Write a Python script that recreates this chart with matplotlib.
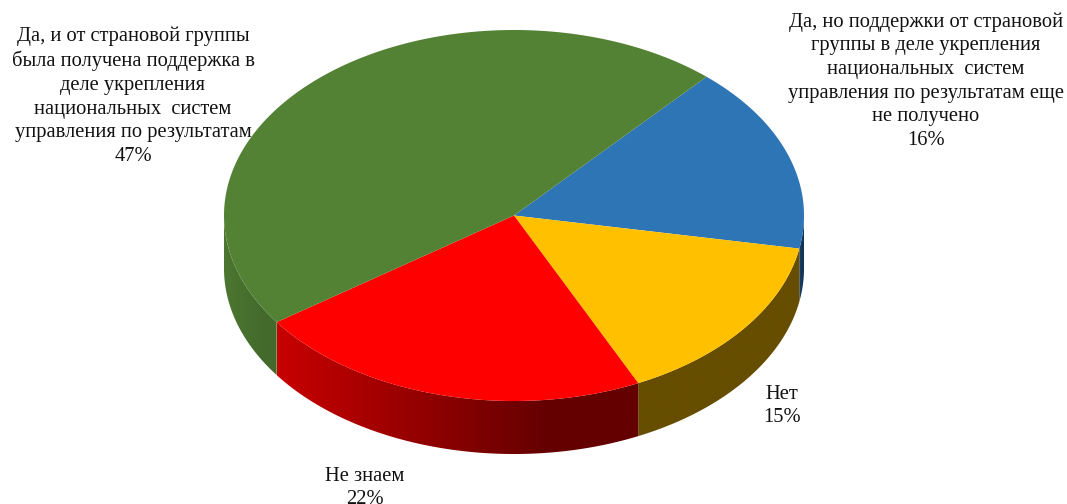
import numpy as np
import matplotlib.pyplot as plt
from matplotlib.colors import to_rgb
from matplotlib.patches import Polygon

labels = ['Да, но поддержки от страновой\nгруппы в деле укрепления\nнациональных  систем\nуправления по результатам еще\nне получено\n16%',
          'Нет\n15%',
          'Не знаем\n22%',
          'Да, и от страновой группы\nбыла получена поддержка в\nделе укрепления\nнациональных  систем\nуправления по результатам\n47%']
# slice sizes as measured on the picture, the 3d view squeezes the back a bit
shares = [16.3, 15.1, 22.3, 46.3]
top_colors = ['#2E75B6', '#FFC000', '#FF0000', '#548235']
side_left = ['#1A426A', '#664D00', '#C80000', '#4C7631']
side_right = ['#123456', '#664D00', '#640000', '#436A2B']
label_pos = [(926, 81), (782, 406), (365, 488), (133, 96)]

# pie geometry, in pixels of the picture
cx, cy = 514, 215.5
rx, ry = 290, 185.5
depth = 53
start = 48.4

fig = plt.figure(figsize=(10.67, 5.04), dpi=100, facecolor='white')
ax = fig.add_axes([0, 0, 1, 1])
ax.axis('off')


def ell(a):
    a = np.radians(a)
    return cx + rx * np.cos(a), cy - ry * np.sin(a)


sweeps = 360 * np.array(shares) / sum(shares)
ends = start - np.cumsum(sweeps)
starts = ends + sweeps

# side wall first, only the front half can be seen
for a0, a1, c0, c1 in zip(starts, ends, side_right, side_left):
    for shift in (0, -360):
        hi = min(a0 + shift, 0)
        lo = max(a1 + shift, -180)
        if hi <= lo:
            continue
        xs, ys = ell(np.linspace(hi, lo, 200))
        # colour runs from left to right, dark part reached a bit before the end
        f = np.clip(np.linspace(0, 1, 256) / 0.75, 0, 1)[:, None]
        grad = (1 - f) * np.array(to_rgb(c1)) + f * np.array(to_rgb(c0))
        im = ax.imshow(grad[None, :, :], aspect='auto', zorder=2, interpolation='bilinear',
                       extent=(xs.min(), xs.max(), ys.max() + depth, ys.min()))
        poly = Polygon(np.c_[np.r_[xs, xs[::-1]], np.r_[ys, ys[::-1] + depth]],
                       transform=ax.transData)
        im.set_clip_path(poly)

# top surface
for a0, a1, col in zip(starts, ends, top_colors):
    xs, ys = ell(np.linspace(a0, a1, 200))
    ax.fill(np.r_[cx, xs], np.r_[cy, ys], color=col, lw=0, zorder=3)

for txt, (x, y) in zip(labels, label_pos):
    ax.text(x, y, txt, ha='center', va='center', fontsize=14.8, linespacing=1.33,
            family='Liberation Serif', color='#111111', zorder=4)

ax.set_xlim(0, 1067)
ax.set_ylim(504, 0)
fig.savefig('out.png', dpi=100)
